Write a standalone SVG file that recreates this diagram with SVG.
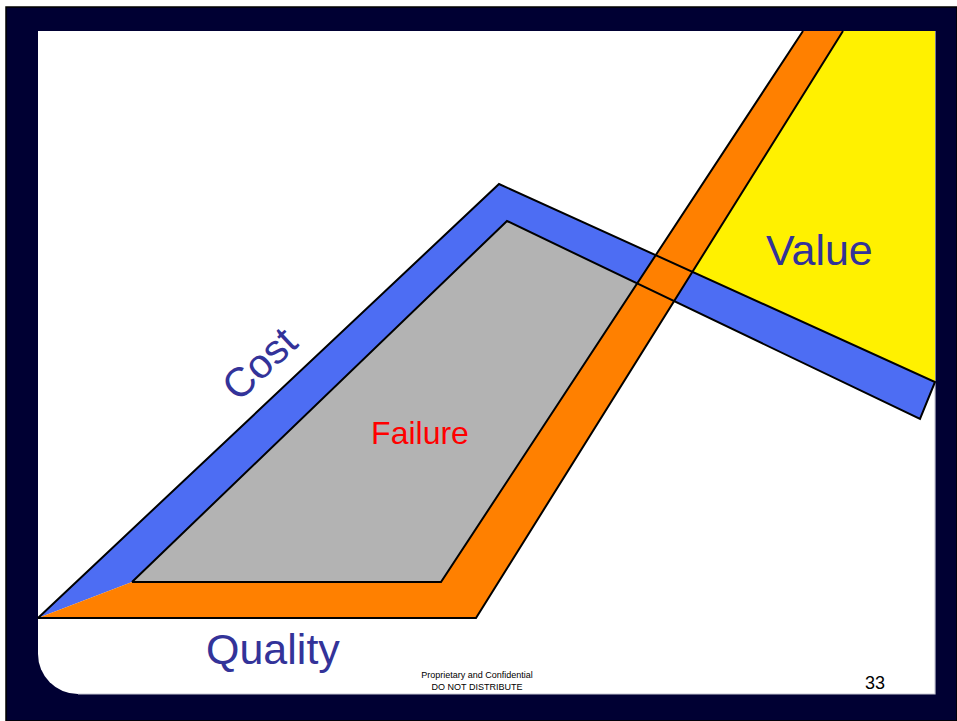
<svg xmlns="http://www.w3.org/2000/svg" width="957" height="721" viewBox="0 0 957 721">
  <style>
    .edge { fill: none; stroke: #000000; stroke-width: 2; stroke-linejoin: miter; stroke-linecap: butt; }
    .label { font-family: "Liberation Sans", Arial, sans-serif; fill: #333399; }
    .footer { font-family: "Liberation Sans", Arial, sans-serif; fill: #000000; }
  </style>

  <!-- slide frame -->
  <g id="frame">
    <rect x="0" y="0" width="957" height="721" fill="#ffffff"/>
    <rect x="6" y="7" width="951" height="714" fill="#000033"/>
    <rect x="6" y="7" width="951" height="714" fill="none" stroke="#000000" stroke-width="1.5"/>
    <path d="M38,31 H935 V694 H78 A40,40 0 0 1 38,654 Z" fill="#ffffff"/>
    <path d="M935,31 V694 H78" fill="none" stroke="#c9c9d6" stroke-width="1.2"/>
  </g>

  <!-- value wedge behind the bands -->
  <g id="value-area">
    <polygon points="843,31 935,31 935,382 692.5,271.6" fill="#fff100"/>
  </g>

  <!-- failure region -->
  <g id="failure-area">
    <polygon points="507,221 132,582 441,582 637.4,283.5" fill="#b3b3b3"/>
  </g>

  <!-- cost band -->
  <g id="cost-band">
    <polygon points="38,618 499,184 935,382 920,419 507,221 132,582" fill="#4d6df3"/>
  </g>

  <!-- quality band rising into value -->
  <g id="quality-band">
    <polygon points="38,618 476,618 843,31 803,31 441,582 132,582" fill="#ff8000"/>
  </g>

  <!-- band outlines drawn over both fills -->
  <g id="connectors">
    <polyline class="edge" points="38,618 499,184 935,382 920,419 507,221 132,582"/>
    <polyline class="edge" points="38,618 476,618 843,31"/>
    <polyline class="edge" points="803,31 441,582 132,582"/>
  </g>

  <!-- labels -->
  <g id="labels">
    <text class="label" font-size="41" text-anchor="middle" transform="translate(269,374) rotate(-43)">Cost</text>
    <text x="420" y="444" font-family="Liberation Sans, Arial, sans-serif" font-size="32" fill="#ff0000" text-anchor="middle">Failure</text>
    <text class="label" x="206" y="664" font-size="43">Quality</text>
    <text class="label" x="766" y="265" font-size="43">Value</text>
  </g>

  <!-- footer -->
  <g id="footer">
    <text class="footer" x="477" y="678" font-size="9" text-anchor="middle">Proprietary and Confidential</text>
    <text class="footer" x="477" y="690" font-size="9" text-anchor="middle">DO NOT DISTRIBUTE</text>
    <text class="footer" x="865" y="689" font-size="18">33</text>
  </g>
</svg>
